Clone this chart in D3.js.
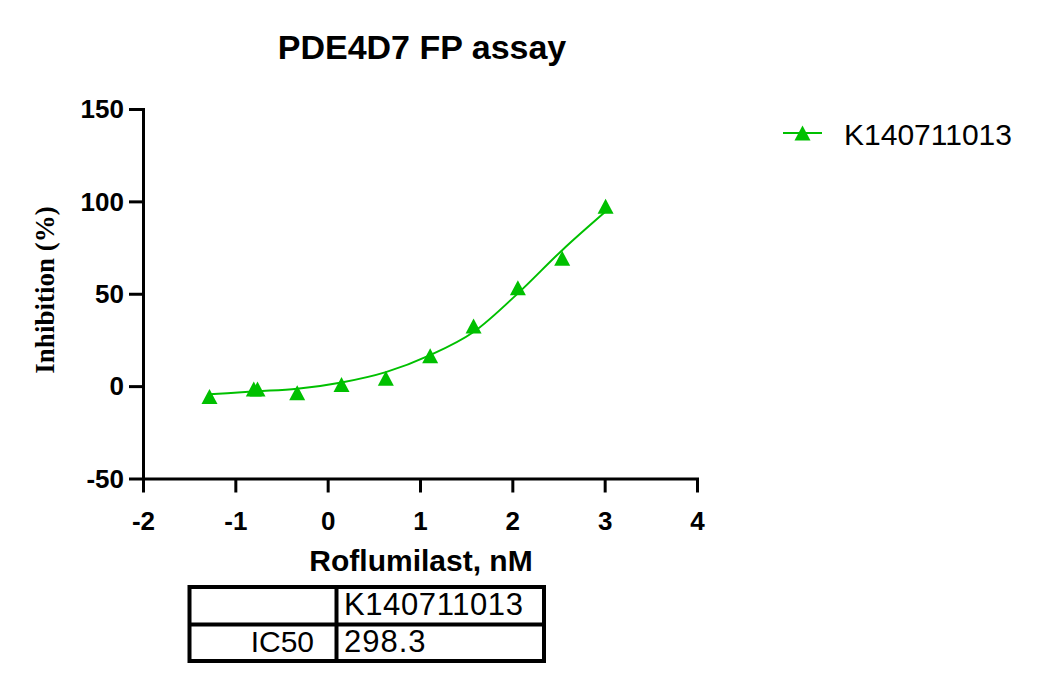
<!DOCTYPE html>
<html>
<head>
<meta charset="utf-8">
<title>PDE4D7 FP assay</title>
<script src="https://d3js.org/d3.v7.min.js"></script>
<style>
  body { margin: 0; background: #fff; }
  svg { display: block; font-family: "Liberation Sans", Arial, sans-serif; }
</style>
</head>
<body>
<svg id="chart"></svg>
<script>
// measured points (log conc, nM) and % inhibition
var logConc = [-1.28, -0.80, -0.76, -0.33, 0.15, 0.63, 1.11, 1.58, 2.06, 2.54, 3.01];
var inhibition = [-5.6, -1.6, -1.6, -3.6, 0.9, 4.2, 16.5, 32.5, 53.2, 69.2, 97.3];

// fitted curve
var fitX = [-1.28, -0.77, -0.33, 0.15, 0.63, 1.11, 1.58, 2.06, 2.54, 3.01];
var fitY = [-4.4, -2.8, -1.4, 2.0, 7.6, 16.8, 29.3, 50.2, 73.6, 94.5];

var xTicks = [-2, -1, 0, 1, 2, 3, 4];
var yTicks = [-50, 0, 50, 100, 150];

var seriesName = "K140711013";
var tableHead = ["", "K140711013"];
var tableRow = ["IC50", "298.3"];

var green = "#00c000";
var W = 1042, H = 684;

var svg = d3.select("#chart").attr("width", W).attr("height", H);
svg.append("rect").attr("width", W).attr("height", H).attr("fill", "#fff");

var x = d3.scaleLinear().domain([-2, 4]).range([143, 697]);
var y = d3.scaleLinear().domain([-50, 150]).range([478.5, 109]);
var plain = function(d) { return String(d); };   // keep ascii hyphen for negatives

// title
svg.append("text")
    .attr("x", 422).attr("y", 59)
    .attr("text-anchor", "middle")
    .style("font-size", "34px").style("font-weight", "bold")
    .text("PDE4D7 FP assay");

// y axis
var yAxis = svg.append("g")
    .attr("transform", "translate(" + x(-2) + ",0)")
    .call(d3.axisLeft(y).tickValues(yTicks).tickFormat(plain)
        .tickSize(14).tickSizeOuter(0).tickPadding(5));
yAxis.select(".domain").attr("stroke-width", 3).attr("stroke-linecap", "square");
yAxis.selectAll(".tick line").attr("stroke-width", 3);
yAxis.selectAll(".tick text")
    .style("font-size", "26px").style("font-weight", "bold")
    .style("font-family", "Liberation Sans, Arial, sans-serif")
    .attr("dy", "0.34em");

// x axis
var xAxis = svg.append("g")
    .attr("transform", "translate(0," + y(-50) + ")")
    .call(d3.axisBottom(x).tickValues(xTicks).tickFormat(plain)
        .tickSize(14).tickSizeOuter(0));
xAxis.select(".domain").attr("stroke-width", 3).attr("stroke-linecap", "square");
xAxis.selectAll(".tick line").attr("stroke-width", 3);
xAxis.selectAll(".tick text")
    .style("font-size", "26px").style("font-weight", "bold")
    .style("font-family", "Liberation Sans, Arial, sans-serif")
    .attr("y", 51).attr("dy", 0);

// axis titles
svg.append("text")
    .attr("transform", "translate(54,290) rotate(-90)")
    .attr("text-anchor", "middle")
    .style("font-family", "Liberation Serif, 'Times New Roman', serif")
    .style("font-size", "27px").style("font-weight", "bold")
    .text("Inhibition (%)");

svg.append("text")
    .attr("x", 421).attr("y", 571)
    .attr("text-anchor", "middle")
    .style("font-size", "30px").style("font-weight", "bold")
    .text("Roflumilast, nM");

// fitted curve
var fit = fitX.map(function(d, i) { return [d, fitY[i]]; });
var line = d3.line()
    .x(function(d) { return x(d[0]); })
    .y(function(d) { return y(d[1]); })
    .curve(d3.curveMonotoneX);
svg.append("path")
    .datum(fit)
    .attr("d", line)
    .attr("fill", "none")
    .attr("stroke", green)
    .attr("stroke-width", 2);

// triangle markers
var tri = "M0,-7.5L8,7.5L-8,7.5Z";
svg.selectAll(".pt")
    .data(logConc)
    .enter()
    .append("path")
    .attr("class", "pt")
    .attr("d", tri)
    .attr("fill", green)
    .attr("transform", function(d, i) {
        return "translate(" + x(d) + "," + y(inhibition[i]) + ")";
    });

// legend
var lg = svg.append("g");
lg.append("line")
    .attr("x1", 783).attr("x2", 822).attr("y1", 133).attr("y2", 133)
    .attr("stroke", green).attr("stroke-width", 2);
lg.append("path").attr("d", tri).attr("fill", green)
    .attr("transform", "translate(802.5,133)");
lg.append("text")
    .attr("x", 844).attr("y", 145)
    .style("font-size", "30px")
    .text(seriesName);

// results table
var tb = svg.append("g").attr("stroke", "#000").attr("stroke-width", 4).attr("fill", "none");
tb.append("rect").attr("x", 189.5).attr("y", 587).attr("width", 354.5).attr("height", 74);
tb.append("line").attr("x1", 336.5).attr("x2", 336.5).attr("y1", 587).attr("y2", 661);
tb.append("line").attr("x1", 189.5).attr("x2", 544).attr("y1", 624.5).attr("y2", 624.5);

svg.append("text").attr("x", 344).attr("y", 615)
    .style("font-size", "31px").style("letter-spacing", "0.6px").text(tableHead[1]);
svg.append("text").attr("x", 314).attr("y", 652)
    .attr("text-anchor", "end")
    .style("font-size", "30px").text(tableRow[0]);
svg.append("text").attr("x", 344).attr("y", 652)
    .style("font-size", "31px").style("letter-spacing", "1px").text(tableRow[1]);
</script>
</body>
</html>
